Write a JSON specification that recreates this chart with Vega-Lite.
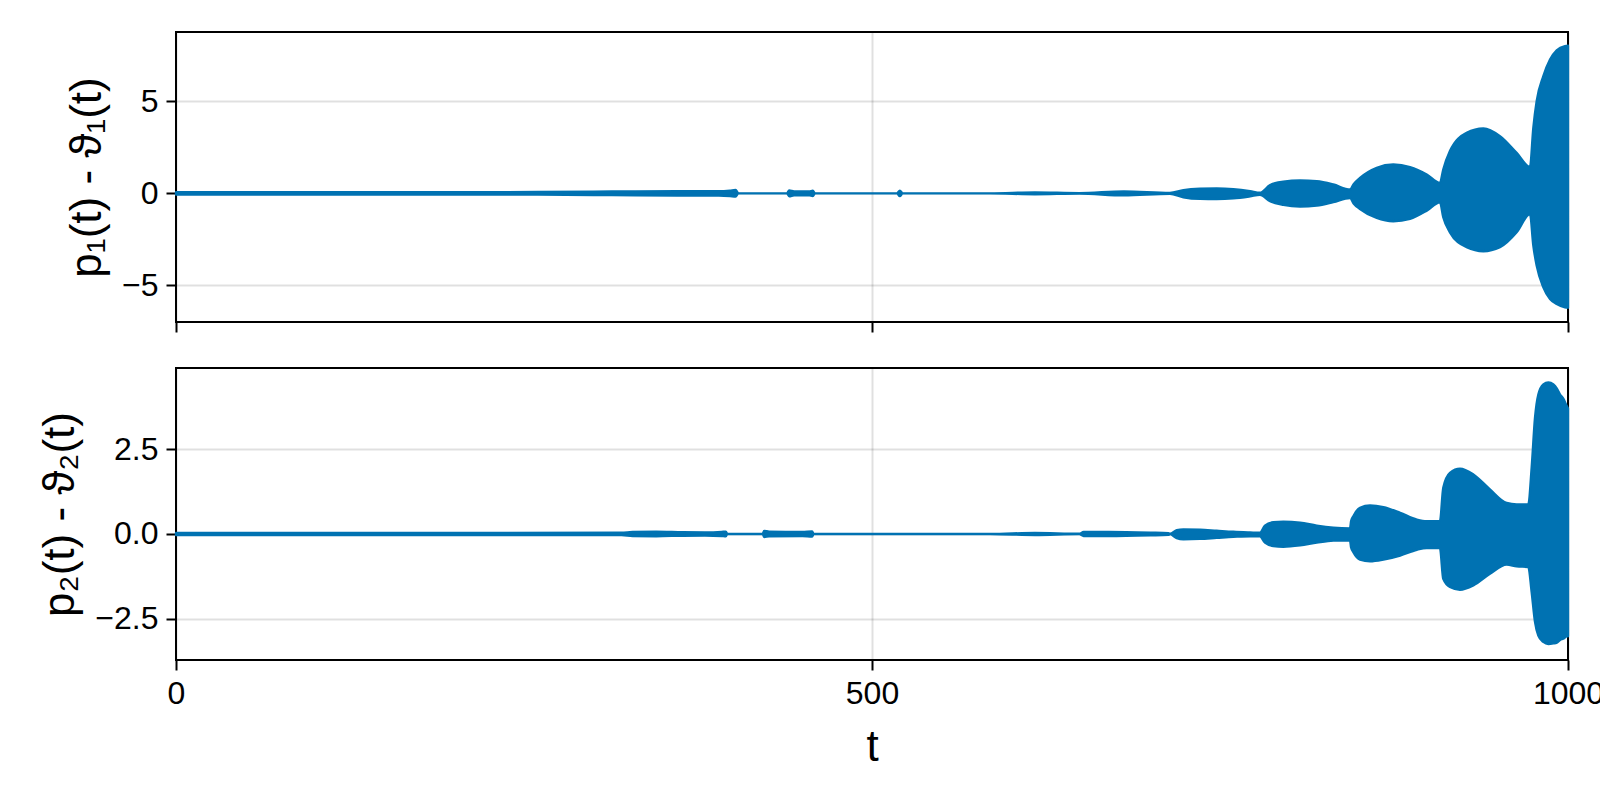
{
  "$schema": "https://vega.github.io/schema/vega-lite/v6.json",
  "autosize": {"type": "none"},
  "padding": {"left": 176, "top": 32, "right": 1424, "bottom": 768},
  "background": "white",
  "spacing": 46,
  "bounds": "flush",
  "config": {
    "font": "'Liberation Sans', 'DejaVu Sans', sans-serif",
    "view": {"stroke": "black", "strokeWidth": 2},
    "axis": {
      "domain": false,
      "tickColor": "black",
      "tickWidth": 2,
      "tickSize": 10,
      "labelFontSize": 32,
      "labelColor": "black",
      "labelPadding": 8,
      "labelFlush": false,
      "titleFontSize": 44,
      "titleFontWeight": "normal",
      "titleColor": "black",
      "gridColor": "#000000",
      "gridOpacity": 0.12,
      "gridWidth": 2
    }
  },
  "datasets": {
    "top": [
      {"t": 0, "hi": 0.06, "lo": -0.06},
      {"t": 100, "hi": 0.06, "lo": -0.06},
      {"t": 200, "hi": 0.06, "lo": -0.06},
      {"t": 260, "hi": 0.07, "lo": -0.07},
      {"t": 300, "hi": 0.09, "lo": -0.09},
      {"t": 330, "hi": 0.11, "lo": -0.11},
      {"t": 360, "hi": 0.12, "lo": -0.12},
      {"t": 390, "hi": 0.12, "lo": -0.12},
      {"t": 398, "hi": 0.15, "lo": -0.15},
      {"t": 402, "hi": 0.18, "lo": -0.18},
      {"t": 404, "hi": 0.0, "lo": 0.0},
      {"t": 439, "hi": 0.0, "lo": 0.0},
      {"t": 440.5, "hi": 0.16, "lo": -0.16},
      {"t": 444, "hi": 0.11, "lo": -0.11},
      {"t": 455, "hi": 0.1, "lo": -0.1},
      {"t": 457.5, "hi": 0.14, "lo": -0.14},
      {"t": 459, "hi": 0.0, "lo": 0.0},
      {"t": 518, "hi": 0.0, "lo": 0.0},
      {"t": 520, "hi": 0.15, "lo": -0.15},
      {"t": 522, "hi": 0.0, "lo": 0.0},
      {"t": 585, "hi": 0.0, "lo": 0.0},
      {"t": 617, "hi": 0.05, "lo": -0.05},
      {"t": 649, "hi": 0.01, "lo": -0.01},
      {"t": 681, "hi": 0.11, "lo": -0.11},
      {"t": 714, "hi": 0.02, "lo": -0.02},
      {"t": 723.7, "hi": 0.17, "lo": -0.21},
      {"t": 735.6, "hi": 0.25, "lo": -0.3},
      {"t": 747.6, "hi": 0.27, "lo": -0.31},
      {"t": 759.6, "hi": 0.23, "lo": -0.27},
      {"t": 771.6, "hi": 0.12, "lo": -0.16},
      {"t": 778.7, "hi": 0.03, "lo": -0.08},
      {"t": 786, "hi": 0.45, "lo": -0.43},
      {"t": 795.5, "hi": 0.63, "lo": -0.63},
      {"t": 807.5, "hi": 0.7, "lo": -0.72},
      {"t": 819.5, "hi": 0.66, "lo": -0.67},
      {"t": 831.4, "hi": 0.48, "lo": -0.48},
      {"t": 843.4, "hi": 0.21, "lo": -0.25},
      {"t": 846, "hi": 0.5, "lo": -0.55},
      {"t": 850.6, "hi": 0.84, "lo": -0.85},
      {"t": 862.6, "hi": 1.39, "lo": -1.34},
      {"t": 874.5, "hi": 1.57, "lo": -1.52},
      {"t": 886.5, "hi": 1.43, "lo": -1.39},
      {"t": 898.5, "hi": 1.03, "lo": -0.94},
      {"t": 908, "hi": 0.57, "lo": -0.48},
      {"t": 910.4, "hi": 1.3, "lo": -1.3},
      {"t": 915.2, "hi": 2.3, "lo": -2.12},
      {"t": 927.2, "hi": 3.29, "lo": -2.93},
      {"t": 939.2, "hi": 3.53, "lo": -3.15},
      {"t": 951.1, "hi": 3.11, "lo": -2.93},
      {"t": 963.1, "hi": 2.2, "lo": -2.12},
      {"t": 972.7, "hi": 1.44, "lo": -1.12},
      {"t": 975.1, "hi": 3.57, "lo": -2.84},
      {"t": 977.5, "hi": 5.02, "lo": -3.93},
      {"t": 982.3, "hi": 6.38, "lo": -5.11},
      {"t": 987.1, "hi": 7.28, "lo": -5.75},
      {"t": 991.9, "hi": 7.78, "lo": -6.02},
      {"t": 997.8, "hi": 8.01, "lo": -6.2},
      {"t": 1000, "hi": 8.03, "lo": -6.22}
    ],
    "bottom": [
      {"t": 0, "hi": 0.03, "lo": -0.03},
      {"t": 200, "hi": 0.03, "lo": -0.03},
      {"t": 320, "hi": 0.035, "lo": -0.035},
      {"t": 328, "hi": 0.06, "lo": -0.06},
      {"t": 345, "hi": 0.065, "lo": -0.065},
      {"t": 364, "hi": 0.05, "lo": -0.05},
      {"t": 380, "hi": 0.045, "lo": -0.045},
      {"t": 392, "hi": 0.06, "lo": -0.06},
      {"t": 395, "hi": 0.07, "lo": -0.07},
      {"t": 396, "hi": 0.0, "lo": 0.0},
      {"t": 421.5, "hi": 0.0, "lo": 0.0},
      {"t": 422.5, "hi": 0.09, "lo": -0.09},
      {"t": 426, "hi": 0.07, "lo": -0.07},
      {"t": 450, "hi": 0.06, "lo": -0.06},
      {"t": 457, "hi": 0.075, "lo": -0.075},
      {"t": 458, "hi": 0.0, "lo": 0.0},
      {"t": 585, "hi": 0.0, "lo": 0.0},
      {"t": 617, "hi": 0.03, "lo": -0.03},
      {"t": 649, "hi": 0.005, "lo": -0.005},
      {"t": 652, "hi": 0.06, "lo": -0.06},
      {"t": 670, "hi": 0.06, "lo": -0.06},
      {"t": 700, "hi": 0.04, "lo": -0.04},
      {"t": 713, "hi": 0.025, "lo": -0.025},
      {"t": 714.1, "hi": 0.005, "lo": -0.005},
      {"t": 718.9, "hi": 0.11, "lo": -0.12},
      {"t": 723.7, "hi": 0.135, "lo": -0.155},
      {"t": 735.6, "hi": 0.125, "lo": -0.145},
      {"t": 747.6, "hi": 0.095, "lo": -0.115},
      {"t": 759.6, "hi": 0.065, "lo": -0.085},
      {"t": 771.6, "hi": 0.045, "lo": -0.065},
      {"t": 778.7, "hi": 0.035, "lo": -0.065},
      {"t": 782.3, "hi": 0.245, "lo": -0.255},
      {"t": 788.3, "hi": 0.345, "lo": -0.355},
      {"t": 795.5, "hi": 0.365, "lo": -0.375},
      {"t": 807.5, "hi": 0.335, "lo": -0.335},
      {"t": 819.5, "hi": 0.245, "lo": -0.255},
      {"t": 831.4, "hi": 0.185, "lo": -0.195},
      {"t": 843.4, "hi": 0.165, "lo": -0.185},
      {"t": 844.2, "hi": 0.38, "lo": -0.4},
      {"t": 845.8, "hi": 0.525, "lo": -0.535},
      {"t": 850.6, "hi": 0.775, "lo": -0.755},
      {"t": 857.8, "hi": 0.845, "lo": -0.805},
      {"t": 867.4, "hi": 0.795, "lo": -0.755},
      {"t": 879.4, "hi": 0.625, "lo": -0.635},
      {"t": 891.4, "hi": 0.425, "lo": -0.465},
      {"t": 898.5, "hi": 0.375, "lo": -0.415},
      {"t": 908, "hi": 0.375, "lo": -0.415},
      {"t": 910.4, "hi": 1.365, "lo": -1.325},
      {"t": 915.2, "hi": 1.805, "lo": -1.565},
      {"t": 922.4, "hi": 1.925, "lo": -1.645},
      {"t": 932, "hi": 1.755, "lo": -1.515},
      {"t": 943.9, "hi": 1.315, "lo": -1.175},
      {"t": 955.9, "hi": 0.915, "lo": -0.905},
      {"t": 963.1, "hi": 0.875, "lo": -0.955},
      {"t": 971.5, "hi": 0.875, "lo": -0.975},
      {"t": 973.9, "hi": 1.955, "lo": -1.715},
      {"t": 976.3, "hi": 3.425, "lo": -2.595},
      {"t": 978.7, "hi": 4.115, "lo": -2.995},
      {"t": 982.3, "hi": 4.415, "lo": -3.185},
      {"t": 985.9, "hi": 4.475, "lo": -3.25},
      {"t": 989.5, "hi": 4.415, "lo": -3.23},
      {"t": 991.9, "hi": 4.3, "lo": -3.205},
      {"t": 994.3, "hi": 4.115, "lo": -3.13},
      {"t": 996.5, "hi": 4.0, "lo": -3.09},
      {"t": 999.1, "hi": 3.775, "lo": -3.025},
      {"t": 1000, "hi": 3.7, "lo": -3.02}
    ]
  },
  "vconcat": [
    {
      "width": 1392,
      "height": 290,
      "data": {"name": "top"},
      "mark": {"type": "area", "color": "#0072b2", "stroke": "#0072b2", "strokeWidth": 2.4, "strokeJoin": "round", "opacity": 1, "interpolate": "monotone"},
      "encoding": {
        "x": {"field": "t", "type": "quantitative", "scale": {"domain": [0, 1000], "nice": false, "zero": false}, "axis": {"values": [0, 500, 1000], "labels": false, "title": null}},
        "y": {"field": "hi", "type": "quantitative", "scale": {"domain": [-7.0, 8.78], "nice": false, "zero": false}, "axis": {"values": [-5, 0, 5], "title": "p₁(t) - ϑ₁(t)", "titlePadding": 12}},
        "y2": {"field": "lo"}
      }
    },
    {
      "width": 1392,
      "height": 292,
      "data": {"name": "bottom"},
      "mark": {"type": "area", "color": "#0072b2", "stroke": "#0072b2", "strokeWidth": 2.4, "strokeJoin": "round", "opacity": 1, "interpolate": "monotone"},
      "encoding": {
        "x": {"field": "t", "type": "quantitative", "scale": {"domain": [0, 1000], "nice": false, "zero": false}, "axis": {"values": [0, 500, 1000], "format": "d", "title": "t", "titlePadding": 16}},
        "y": {"field": "hi", "type": "quantitative", "scale": {"domain": [-3.72, 4.9], "nice": false, "zero": false}, "axis": {"values": [-2.5, 0, 2.5], "format": ".1f", "title": "p₂(t) - ϑ₂(t)", "titlePadding": 12}},
        "y2": {"field": "lo"}
      }
    }
  ]
}
